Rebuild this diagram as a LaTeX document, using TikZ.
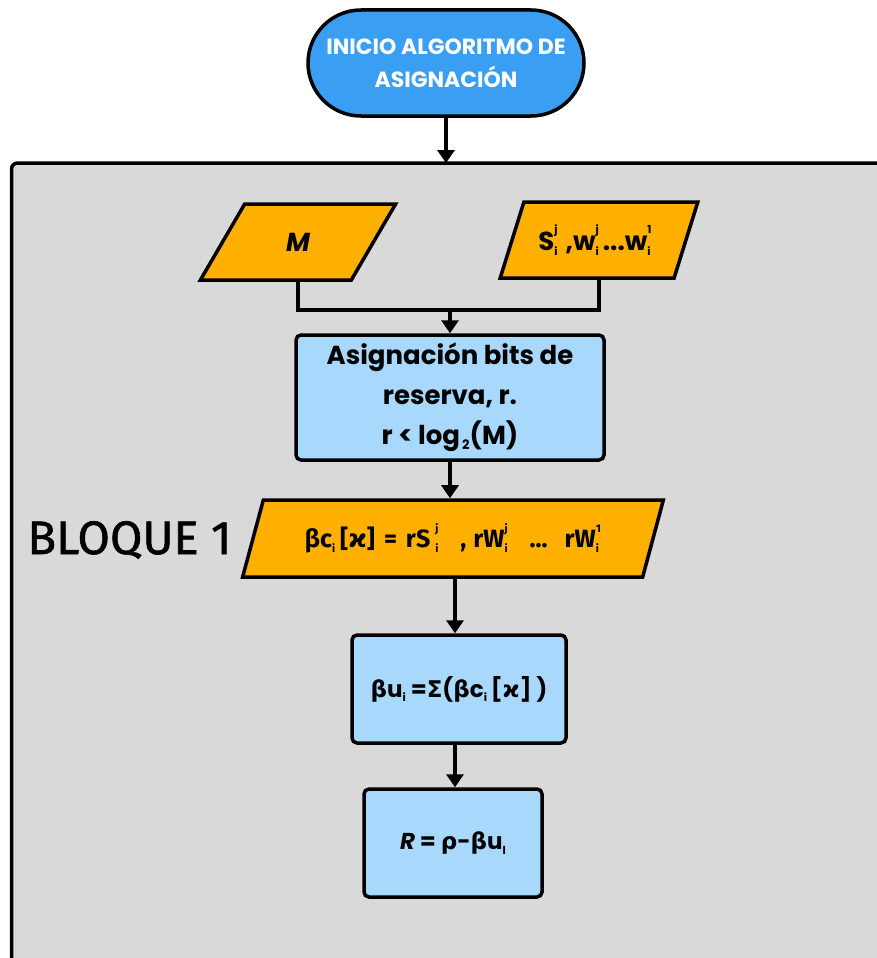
\documentclass[tikz,border=0pt]{standalone}
\usepackage{fontspec}
\setmainfont{Poppins}
\newfontfamily\fira{Fira Sans}
\newfontfamily\firaheavy[FakeBold=1.2]{Fira Sans}
\newfontfamily\gk{DejaVu Sans}
\usetikzlibrary{shapes.geometric,shapes.misc,arrows.meta}

% stacked index: subscript #1, superscript #2
\newcommand\ix[2]{\makebox[0pt][l]{\raisebox{-0.35ex}{\fontsize{11}{11}\selectfont #1}}\raisebox{1.15ex}{\fontsize{11}{11}\selectfont #2}}
\newcommand\sbx[1]{\raisebox{-0.35ex}{\fontsize{11}{11}\selectfont #1}}
\newcommand\g[1]{{\gk #1}}

\definecolor{startblue}{HTML}{3A9FF2}
\definecolor{procblue}{HTML}{A8D8FC}
\definecolor{ioorange}{HTML}{FFB000}
\definecolor{panelgray}{HTML}{D9D9D9}

\tikzset{
  outline/.style={draw=black, line width=3.5pt},
  terminal/.style={outline, rounded rectangle, fill=startblue, text=white,
    font=\fontsize{22}{33}\selectfont\bfseries, align=center,
    minimum width=276pt, minimum height=106pt, inner sep=0pt},
  process/.style={outline, rectangle, rounded corners=5pt, fill=procblue,
    font=\fontsize{26}{40}\selectfont\bfseries, align=center, inner sep=0pt},
  iodata/.style={outline, trapezium, trapezium stretches=true,
    trapezium left angle=61.5, trapezium right angle=118.5,
    fill=ioorange, font=\fontsize{26}{26}\selectfont\bfseries, inner sep=0pt},
  arr/.style={line width=3.5pt, -{Triangle[length=13pt,width=17pt]}},
  link/.style={line width=3.5pt},
}

\begin{document}
\begin{tikzpicture}[x=1pt,y=-1pt]
\useasboundingbox (0,0) rectangle (876,958);

% grey panel holding the block
\fill[panelgray] (11.5,163) rectangle (890,970);
\draw[line width=3.5pt, rounded corners=6pt] (11.5,975) -- (11.5,163) -- (895,163);
\coordinate (paneltop) at (446,163);

\node[terminal] (start) at (446,63) {INICIO ALGORITMO DE\\ASIGNACIÓN};

\node[iodata, minimum width=196pt, minimum height=76pt] (m) at (298,242)
  {\itshape M};
\node[iodata, minimum width=198pt, minimum height=76pt] (s) at (599,240)
  {\hspace{-8pt}S\ix{i}{j}\hspace{8pt},w\ix{i}{j}\hspace{4pt}...w\ix{i}{1}};

\node[process, minimum width=308pt, minimum height=125pt] (res) at (450,397.5)
  {Asignación bits de\\reserva, r.\\r < log\raisebox{-0.3ex}{\fontsize{13}{13}\selectfont\,2}(M)};

\node[iodata, minimum width=422pt, minimum height=77pt, font=\fira\fontsize{25}{25}\selectfont\bfseries] (bc) at (453,538.5)
  {βc\sbx{i}\hspace{5pt}[\g{ϰ}]\hspace{9pt}=\hspace{9pt}rS\hspace{5pt}\ix{i}{j}\hspace{22pt},\hspace{7pt}rW\ix{i}{j}\hspace{22pt}...\hspace{17pt}rW\ix{i}{1}};

\node[font=\firaheavy\fontsize{47}{47}\selectfont, anchor=west] (lbl) at (24,540) {BLOQUE 1};

\node[process, font=\fontsize{23}{23}\selectfont\bfseries, minimum width=214pt, minimum height=108pt] (sum) at (459,689)
  {\g{β}u\sbx{i} =\g{Σ}(\g{β}c\sbx{i}\,[\g{ϰ}] )};

\node[process, font=\fontsize{23}{23}\selectfont\bfseries, minimum width=178pt, minimum height=108pt] (rem) at (453,843)
  {\textit{R} = \g{ρ}-\g{β}u\sbx{l}};

% connectors
\draw[arr] (start.south) -- (paneltop);
\coordinate (join) at (450,310);
\draw[link] (m.south) |- (join) -| (s.south);
\draw[arr] (join) -- (join |- res.north);
\draw[arr] (res.south) -- (res.south |- bc.north);
\draw[arr] (sum.north |- bc.south) ++(-4,0) coordinate (bcout) -- (bcout |- sum.north);
\draw[arr] (sum.south) ++(-4,0) coordinate (sumout) -- (sumout |- rem.north);
\end{tikzpicture}
\end{document}
